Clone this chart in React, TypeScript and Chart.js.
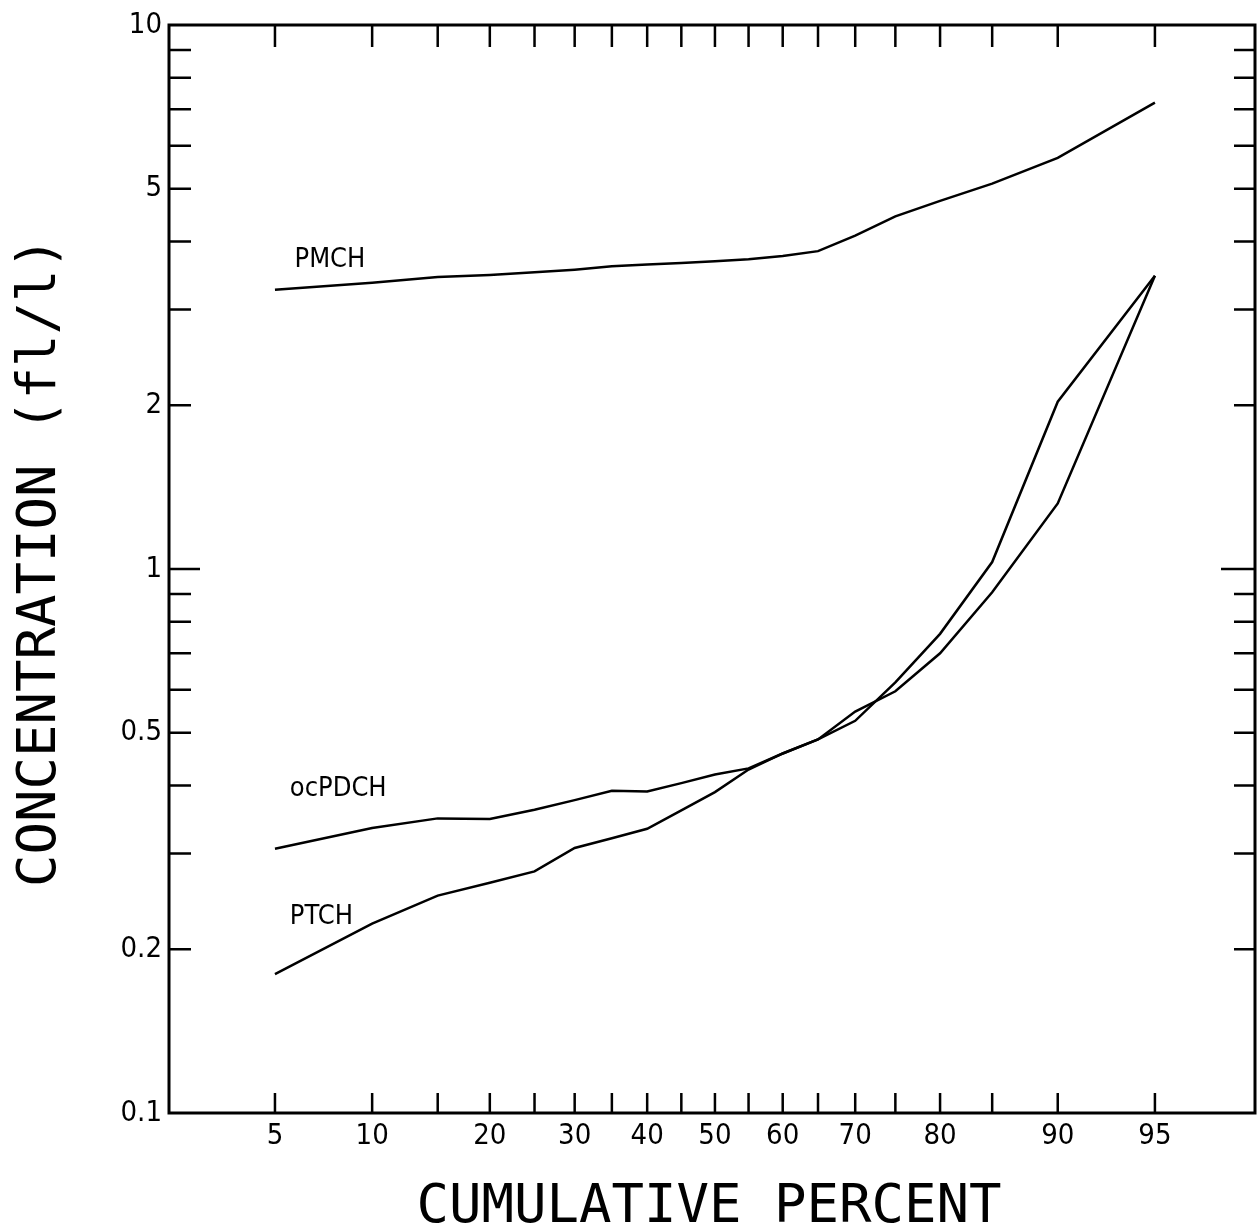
import React, { useEffect, useRef } from "react";
import { Chart, registerables } from "chart.js";

Chart.register(...registerables);

// ---- data (cumulative percent vs concentration, fl/l) ----
const PERCENTS = [5, 10, 15, 20, 25, 30, 35, 40, 45, 50, 55, 60, 65, 70, 75, 80, 85, 90, 95];
const PMCH = [3.26, 3.36, 3.44, 3.47, 3.51, 3.55, 3.6, 3.63, 3.65, 3.68, 3.71, 3.76, 3.84, 4.1, 4.45, 4.75, 5.11, 5.7, 7.2];
const OCPDCH = [0.306, 0.334, 0.348, 0.347, 0.361, 0.376, 0.391, 0.39, 0.404, 0.419, 0.43, 0.458, 0.486, 0.547, 0.596, 0.7, 0.906, 1.32, 3.46];
const PTCH = [0.18, 0.223, 0.251, 0.265, 0.278, 0.307, 0.32, 0.333, 0.36, 0.389, 0.428, 0.458, 0.486, 0.526, 0.619, 0.76, 1.03, 2.03, 3.46];

const X_TICK_LABELS = [5, 10, 20, 30, 40, 50, 60, 70, 80, 90, 95];
const X_TICK_MARKS = [5, 10, 15, 20, 25, 30, 35, 40, 45, 50, 55, 60, 65, 70, 75, 80, 85, 90, 95];
const Y_TICK_LABELS = [0.1, 0.2, 0.5, 1, 2, 5, 10];
const Y_TICK_MARKS = [0.2, 0.3, 0.4, 0.5, 0.6, 0.7, 0.8, 0.9, 1, 2, 3, 4, 5, 6, 7, 8, 9];

const SERIES_NAMES = ["PMCH", "ocPDCH", "PTCH"];
const SERIES_LABEL_AT = [
  { p: 5.8, v: 3.59 },
  { p: 5.6, v: 0.383 },
  { p: 5.6, v: 0.2226 },
];

// inverse normal CDF (probability scale)
function probit(p: number): number {
  const a = [-3.969683028665376e1, 2.209460984245205e2, -2.759285104469687e2, 1.38357751867269e2, -3.066479806614716e1, 2.506628277459239];
  const b = [-5.447609879822406e1, 1.615858368580409e2, -1.556989798598866e2, 6.680131188771972e1, -1.328068155288572e1];
  const c = [-7.784894002430293e-3, -3.223964580411365e-1, -2.400758277161838, -2.549732539343734, 4.374664141464968, 2.938163982698783];
  const d = [7.784695709041462e-3, 3.224671290700398e-1, 2.445134137142996, 3.754408661907416];
  const plow = 0.02425;
  const phigh = 1 - plow;
  if (p < plow) {
    const q = Math.sqrt(-2 * Math.log(p));
    return (((((c[0] * q + c[1]) * q + c[2]) * q + c[3]) * q + c[4]) * q + c[5]) / ((((d[0] * q + d[1]) * q + d[2]) * q + d[3]) * q + 1);
  }
  if (p > phigh) {
    const q = Math.sqrt(-2 * Math.log(1 - p));
    return -(((((c[0] * q + c[1]) * q + c[2]) * q + c[3]) * q + c[4]) * q + c[5]) / ((((d[0] * q + d[1]) * q + d[2]) * q + d[3]) * q + 1);
  }
  const q = p - 0.5;
  const r = q * q;
  return ((((((a[0] * r + a[1]) * r + a[2]) * r + a[3]) * r + a[4]) * r + a[5]) * q) / (((((b[0] * r + b[1]) * r + b[2]) * r + b[3]) * r + b[4]) * r + 1);
}

const TICK_FONT = "'Liberation Sans Narrow', 'DejaVu Sans Condensed', 'Liberation Sans', sans-serif";
const TITLE_FONT = "'DejaVu Sans Mono', 'Liberation Mono', monospace";

const framePlugin = {
  id: "frame",
  afterDatasetsDraw(chart: any) {
    const { ctx, chartArea } = chart;
    const { left, right, top, bottom } = chartArea;
    const xs = chart.scales.x;
    const ys = chart.scales.y;
    ctx.save();
    ctx.strokeStyle = "#000";
    ctx.lineCap = "butt";
    // frame
    ctx.lineWidth = 3;
    ctx.strokeRect(left, top, right - left, bottom - top);
    // x tick marks (inward, top and bottom)
    ctx.lineWidth = 2.5;
    ctx.beginPath();
    for (const p of X_TICK_MARKS) {
      const x = xs.getPixelForValue(probit(p / 100));
      ctx.moveTo(x, bottom);
      ctx.lineTo(x, bottom - 20);
      ctx.moveTo(x, top);
      ctx.lineTo(x, top + 22);
    }
    // y tick marks (inward, left and right)
    for (const v of Y_TICK_MARKS) {
      const y = ys.getPixelForValue(v);
      const lenL = v === 1 ? 31 : 22;
      const lenR = v === 1 ? 34 : 21;
      ctx.moveTo(left, y);
      ctx.lineTo(left + lenL, y);
      ctx.moveTo(right, y);
      ctx.lineTo(right - lenR, y);
    }
    ctx.stroke();

    // series labels
    ctx.fillStyle = "#000";
    ctx.font = `27px ${TICK_FONT}`;
    ctx.textAlign = "left";
    ctx.textBaseline = "alphabetic";
    SERIES_NAMES.forEach((name, i) => {
      const at = SERIES_LABEL_AT[i];
      ctx.fillText(name, xs.getPixelForValue(probit(at.p / 100)), ys.getPixelForValue(at.v));
    });

    // axis titles
    ctx.font = `54px ${TITLE_FONT}`;
    ctx.textAlign = "center";
    ctx.fillText("CUMULATIVE PERCENT", 709, 1222);
    ctx.translate(55, 562);
    ctx.rotate(-Math.PI / 2);
    ctx.fillText("CONCENTRATION (fl/l)", 0, 0);
    ctx.restore();
  },
};

export default function App() {
  const ref = useRef<HTMLCanvasElement | null>(null);

  useEffect(() => {
    if (!ref.current) return;
    const mk = (vals: number[]) => PERCENTS.map((p, i) => ({ x: probit(p / 100), y: vals[i] }));
    const lineStyle = {
      borderColor: "#000",
      backgroundColor: "#000",
      borderWidth: 2.5,
      pointRadius: 0,
      tension: 0,
      fill: false,
    };
    const chart = new Chart(ref.current, {
      type: "line",
      data: {
        datasets: [
          { label: SERIES_NAMES[0], data: mk(PMCH), ...lineStyle },
          { label: SERIES_NAMES[1], data: mk(OCPDCH), ...lineStyle },
          { label: SERIES_NAMES[2], data: mk(PTCH), ...lineStyle },
        ],
      },
      options: {
        animation: false,
        responsive: false,
        maintainAspectRatio: false,
        layout: { padding: { top: 25, right: 3, left: 0, bottom: 0 } },
        plugins: { legend: { display: false }, tooltip: { enabled: false }, title: { display: false } },
        scales: {
          x: {
            type: "linear",
            min: -2.041,
            max: 2.019,
            grid: { display: false, drawTicks: false },
            border: { display: false },
            ticks: {
              color: "#000",
              padding: 6,
              autoSkip: false,
              maxRotation: 0,
              font: { family: TICK_FONT, size: 29 },
              callback: (value: any) => {
                const idx = X_TICK_LABELS.findIndex((p) => Math.abs(probit(p / 100) - Number(value)) < 1e-6);
                return idx >= 0 ? String(X_TICK_LABELS[idx]) : "";
              },
            },
            afterBuildTicks: (s: any) => {
              s.ticks = X_TICK_LABELS.map((p) => ({ value: probit(p / 100) }));
            },
            afterFit: (s: any) => {
              s.height = 113;
            },
          },
          y: {
            type: "logarithmic",
            min: 0.1,
            max: 10,
            grid: { display: false, drawTicks: false },
            border: { display: false },
            ticks: {
              color: "#000",
              padding: 7,
              autoSkip: false,
              font: { family: TICK_FONT, size: 29 },
              callback: (value: any) => String(value),
            },
            afterBuildTicks: (s: any) => {
              s.ticks = Y_TICK_LABELS.map((v) => ({ value: v }));
            },
            afterFit: (s: any) => {
              s.width = 169;
            },
          },
        },
      },
      plugins: [framePlugin],
    } as any);
    return () => chart.destroy();
  }, []);

  return (
    <div style={{ position: "absolute", left: 0, top: 0, width: 1258, height: 1226, background: "#fff" }}>
      <canvas ref={ref} width={1258} height={1226} style={{ display: "block", width: 1258, height: 1226 }} />
    </div>
  );
}
